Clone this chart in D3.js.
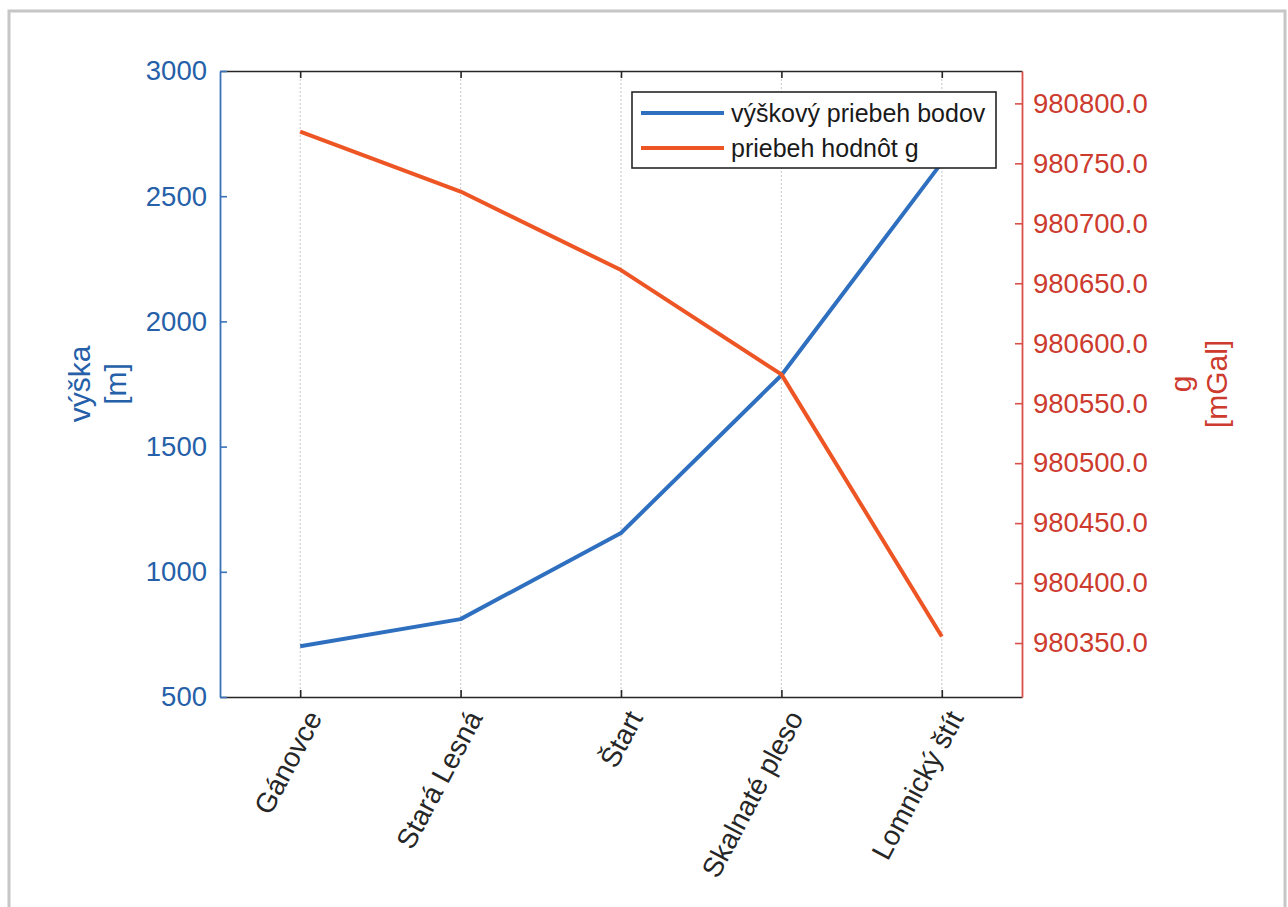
<!DOCTYPE html>
<html>
<head>
<meta charset="utf-8">
<script src="https://cdn.jsdelivr.net/npm/d3@7"></script>
<style>
html,body{margin:0;padding:0;background:#fff;}
svg{display:block;}
text{font-family:"Liberation Sans",Arial,Helvetica,sans-serif;}
</style>
</head>
<body>
<svg id="chart" width="1288" height="907"></svg>
<script>
// ---- data ----
const categories = ["Gánovce", "Stará Lesná", "Štart", "Skalnaté pleso", "Lomnický štít"];
const heightValues = [703, 811, 1155, 1785, 2634];            // výška [m]
const gValues = [980776.5, 980726.5, 980661.0, 980574.0, 980355.5]; // g [mGal]
const leftTicks = [500, 1000, 1500, 2000, 2500, 3000];
const rightTicks = [980350, 980400, 980450, 980500, 980550, 980600, 980650, 980700, 980750, 980800];
const legendLabels = ["výškový priebeh bodov", "priebeh hodnôt g"];
const leftLabel = ["výška", "[m]"];
const rightLabel = ["g", "[mGal]"];

// ---- layout ----
const svg = d3.select("#chart");
const M = {left: 220, top: 71, right: 1022, bottom: 697};
const blueLine = "#2f6fbf", redLine = "#ee5524";
const blueText = "#2560a8", redText = "#cc3b2e";
const blueAxis = "#3a72b8", redAxis = "#d9504a";
const tickFont = 27.5;

// outer frame
svg.append("rect").attr("x", 9).attr("y", 11).attr("width", 1276).attr("height", 920)
  .attr("fill", "none").attr("stroke", "#c6c6c6").attr("stroke-width", 3);

const x = d3.scaleLinear().domain([0.5, categories.length + 0.5]).range([M.left, M.right]);
const yL = d3.scaleLinear().domain([500, 3000]).range([M.bottom, M.top]);
const yR = d3.scaleLinear().domain([980305, 980827]).range([M.bottom, M.top]);

// grid lines
svg.append("g").selectAll("line").data(categories).join("line")
  .attr("x1", (d, i) => x(i + 1)).attr("x2", (d, i) => x(i + 1))
  .attr("y1", M.top).attr("y2", M.bottom)
  .attr("stroke", "#d0d0d0").attr("stroke-width", 1.2).attr("stroke-dasharray", "2,2");

// x axis (bottom) and top line
const xAxis = d3.axisBottom(x).tickValues(d3.range(1, categories.length + 1))
  .tickSize(-7).tickSizeOuter(0).tickFormat("");
const gx = svg.append("g").attr("transform", `translate(0,${M.bottom})`).call(xAxis);
gx.select(".domain").attr("stroke", "#262626").attr("stroke-width", 1.6);
gx.selectAll(".tick line").attr("stroke", "#262626").attr("stroke-width", 1.6);
const xAxisTop = d3.axisTop(x).tickValues(d3.range(1, categories.length + 1))
  .tickSize(-7).tickSizeOuter(0).tickFormat("");
const gxt = svg.append("g").attr("transform", `translate(0,${M.top})`).call(xAxisTop);
gxt.select(".domain").attr("stroke", "#262626").attr("stroke-width", 1.6);
gxt.selectAll(".tick line").attr("stroke", "#262626").attr("stroke-width", 1.6);

// x tick labels rotated
svg.append("g").selectAll("text").data(categories).join("text")
  .attr("transform", (d, i) => `translate(${x(i + 1) + 14},${M.bottom + 16}) rotate(-62)`)
  .attr("text-anchor", "end").attr("dy", "0.35em")
  .attr("font-size", 28).attr("fill", "#262626").text(d => d);

// left axis
const gl = svg.append("g").attr("transform", `translate(${M.left},0)`)
  .call(d3.axisLeft(yL).tickValues(leftTicks).tickSize(-7).tickSizeOuter(0).tickPadding(13)
    .tickFormat(d3.format("d")));
gl.select(".domain").attr("stroke", blueAxis).attr("stroke-width", 1.8);
gl.selectAll(".tick line").attr("stroke", blueAxis).attr("stroke-width", 1.6);
gl.selectAll(".tick text").attr("font-size", tickFont).attr("fill", blueText)
  .attr("font-family", "Liberation Sans, Arial, sans-serif");

// right axis
const gr = svg.append("g").attr("transform", `translate(${M.right},0)`)
  .call(d3.axisRight(yR).tickValues(rightTicks).tickSize(-7).tickSizeOuter(0).tickPadding(11)
    .tickFormat(d3.format(".1f")));
gr.select(".domain").attr("stroke", redAxis).attr("stroke-width", 1.8);
gr.selectAll(".tick line").attr("stroke", redAxis).attr("stroke-width", 1.6);
gr.selectAll(".tick text").attr("font-size", tickFont).attr("fill", redText)
  .attr("font-family", "Liberation Sans, Arial, sans-serif");

// axis labels
const ll = svg.append("text").attr("transform", `translate(90,${(M.top + M.bottom) / 2}) rotate(-90)`)
  .attr("text-anchor", "middle").attr("font-size", 30).attr("fill", blueText);
ll.selectAll("tspan").data(leftLabel).join("tspan")
  .attr("x", 0).attr("dy", (d, i) => i === 0 ? "0em" : "1.2em").text(d => d);
const rl = svg.append("text").attr("transform", `translate(1191,${(M.top + M.bottom) / 2}) rotate(-90)`)
  .attr("text-anchor", "middle").attr("font-size", 30).attr("fill", redText);
rl.selectAll("tspan").data(rightLabel).join("tspan")
  .attr("x", 0).attr("dy", (d, i) => i === 0 ? "0em" : "1.2em").text(d => d);

// lines
const lineL = d3.line().x((d, i) => x(i + 1)).y(d => yL(d));
const lineR = d3.line().x((d, i) => x(i + 1)).y(d => yR(d));
svg.append("path").datum(heightValues).attr("d", lineL)
  .attr("fill", "none").attr("stroke", blueLine).attr("stroke-width", 4).attr("stroke-linejoin", "round");
svg.append("path").datum(gValues).attr("d", lineR)
  .attr("fill", "none").attr("stroke", redLine).attr("stroke-width", 4).attr("stroke-linejoin", "round");

// legend
const lg = svg.append("g");
lg.append("rect").attr("x", 632).attr("y", 92).attr("width", 364).attr("height", 76)
  .attr("fill", "#fff").attr("stroke", "#262626").attr("stroke-width", 1.6);
const legColors = [blueLine, redLine];
legendLabels.forEach((lab, i) => {
  const yy = 113 + i * 35;
  lg.append("line").attr("x1", 641).attr("x2", 724).attr("y1", yy).attr("y2", yy)
    .attr("stroke", legColors[i]).attr("stroke-width", 4);
  lg.append("text").attr("x", 731).attr("y", yy).attr("dy", "0.35em")
    .attr("font-size", 25).attr("fill", "#1a1a1a").text(lab);
});
</script>
</body>
</html>
